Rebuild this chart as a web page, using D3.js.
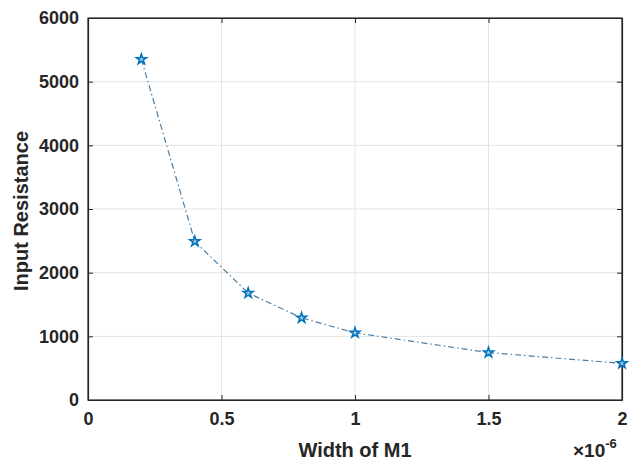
<!DOCTYPE html>
<html>
<head>
<meta charset="utf-8">
<script src="https://cdn.jsdelivr.net/npm/d3@7"></script>
<style>
  html, body { margin: 0; padding: 0; background: #fff; }
  svg { display: block; font-family: "Liberation Sans", Arial, sans-serif; }
</style>
</head>
<body>
<svg id="chart" width="633" height="462"></svg>
<script>
// Width of M1 (in units of 1e-6) and measured input resistance
const widths = [0.2, 0.4, 0.6, 0.8, 1.0, 1.5, 2.0];
const resistance = [5350, 2490, 1680, 1290, 1055, 745, 575];
const xTicks = [0, 0.5, 1, 1.5, 2];
const yTicks = [0, 1000, 2000, 3000, 4000, 5000, 6000];

const svg = d3.select("#chart");
const m = { left: 88, right: 11, top: 18, bottom: 62 };
const W = 633, H = 462;
const iw = W - m.left - m.right, ih = H - m.top - m.bottom;
const ink = "#262626";

const x = d3.scaleLinear().domain([0, 2]).range([0, iw]);
const y = d3.scaleLinear().domain([0, 6000]).range([ih, 0]);

const g = svg.append("g").attr("transform", `translate(${m.left},${m.top})`);

// grid
g.append("g").selectAll("line").data(xTicks.slice(1, -1)).join("line")
  .attr("x1", d => x(d)).attr("x2", d => x(d)).attr("y1", 0).attr("y2", ih)
  .attr("stroke", "#e3e3e3").attr("stroke-width", 1);
g.append("g").selectAll("line").data(yTicks.slice(1, -1)).join("line")
  .attr("y1", d => y(d)).attr("y2", d => y(d)).attr("x1", 0).attr("x2", iw)
  .attr("stroke", "#e3e3e3").attr("stroke-width", 1);

// axes (ticks pointing inward)
const fmtX = d => d3.format("~g")(d);
g.append("g").attr("transform", `translate(0,${ih})`)
  .call(d3.axisBottom(x).tickValues(xTicks).tickFormat(fmtX).tickSizeInner(-5).tickSizeOuter(0).tickPadding(12));
g.append("g")
  .call(d3.axisLeft(y).tickValues(yTicks).tickFormat(d3.format("d")).tickSizeInner(-5).tickSizeOuter(0).tickPadding(9));
// mirrored ticks on top and right
g.append("g").call(d3.axisTop(x).tickValues(xTicks).tickFormat("").tickSizeInner(-5).tickSizeOuter(0));
g.append("g").attr("transform", `translate(${iw},0)`)
  .call(d3.axisRight(y).tickValues(yTicks).tickFormat("").tickSizeInner(-5).tickSizeOuter(0));

g.selectAll(".domain").attr("stroke", ink).attr("stroke-width", 1.2);
g.selectAll(".tick line").attr("stroke", ink);
g.selectAll(".tick text").attr("fill", ink).attr("font-size", 18).attr("font-weight", "bold")
  .attr("font-family", "'Liberation Sans', Arial, sans-serif");

// box
g.append("rect").attr("x", 0).attr("y", 0).attr("width", iw).attr("height", ih)
  .attr("fill", "none").attr("stroke", ink).attr("stroke-width", 1.2);

// data line
const color = "#0072BD";
g.append("path").datum(widths.map((w, i) => [w, resistance[i]]))
  .attr("fill", "none").attr("stroke", "#4a7ea6").attr("stroke-width", 1.2)
  .attr("stroke-dasharray", "6,3,1.5,3")
  .attr("d", d3.line().x(d => x(d[0])).y(d => y(d[1])));

// pentagram markers
const star = d3.symbol().type(d3.symbolStar).size(32);
g.append("g").selectAll("path").data(widths).join("path")
  .attr("transform", (d, i) => `translate(${x(d)},${y(resistance[i])})`)
  .attr("d", star())
  .attr("fill", "#9cc3df").attr("stroke", color).attr("stroke-width", 1.5);

// labels
svg.append("text").attr("x", m.left + iw / 2).attr("y", 457).attr("text-anchor", "middle")
  .attr("font-size", 20).attr("font-weight", "bold").attr("fill", ink).text("Width of M1");
svg.append("text").attr("transform", `translate(28,${m.top + ih / 2 + 2}) rotate(-90)`)
  .attr("text-anchor", "middle").attr("font-size", 20).attr("font-weight", "bold").attr("fill", ink)
  .text("Input Resistance");

// exponent label
const ex = svg.append("text").attr("x", 573).attr("y", 457).attr("font-size", 19)
  .attr("font-weight", "bold").attr("fill", ink);
ex.append("tspan").text("×10");
ex.append("tspan").attr("dy", -9).attr("font-size", 13).text("-6");
</script>
</body>
</html>
